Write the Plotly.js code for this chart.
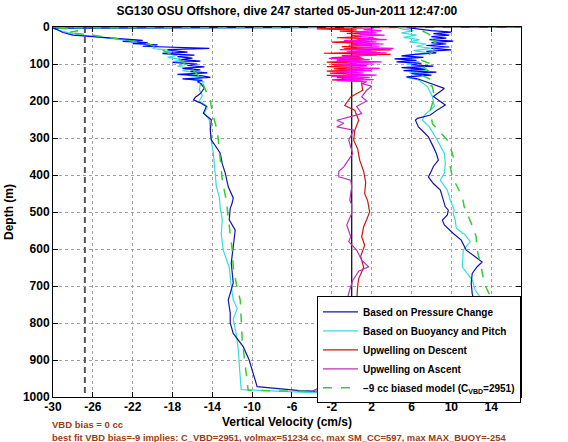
<!DOCTYPE html>
<html>
<head>
<meta charset="utf-8">
<script src="https://cdn.plot.ly/plotly-3.0.1.min.js"></script>
<style>html,body{margin:0;padding:0;background:#fff}#chart{width:568px;height:442px}</style>
</head>
<body>
<div id="chart"></div>
<script>
// ---------------- DATA ----------------
// Based on Pressure Change (blue)
const blueDescNoisyDepth = [0, 3, 8, 15, 22, 28, 33, 36, 39, 42, 45, 48, 52, 55, 58, 61, 64, 68, 72, 76, 80, 84, 88, 92, 96, 100, 104, 108, 112, 116, 120, 124, 128, 132, 136, 140, 144, 148, 152];
const blueDescNoisyW = [18, -30, -29.5, -29, -28, -25, -22.5, -21, -23, -20.5, -22, -19.5, -21, -17.5, -14.3, -18.5, -18, -16.5, -19, -15.8, -17.5, -16, -17.2, -15.2, -18, -15.5, -16.5, -14.8, -17, -15.2, -16.2, -14.5, -17.5, -15, -14.2, -17, -15, -15.5, -15.2];
const blueDescDepth = [152, 165, 180, 190, 197, 205, 215, 233, 251, 280, 305, 341, 370, 395, 432, 462, 475, 490, 521, 549, 594, 638, 692, 738, 773, 800, 828, 864, 900, 936, 968, 972, 983, 988, 990];
const blueDescW = [-15.2, -14.8, -15.2, -15.7, -15.9, -15.2, -14.6, -14.9, -14.1, -14.2, -14.1, -13.2, -13.0, -12.7, -12.4, -11.9, -12.0, -12.2, -12.3, -11.7, -11.9, -12.1, -11.9, -12.4, -12.2, -12.2, -11.9, -10.9, -10.3, -9.9, -9.5, -9.5, -5.2, 0, 8];
const blueAscDepth = [992, 988, 975, 950, 920, 880, 840, 800, 769, 747, 720, 693, 666, 648, 635, 621, 603, 576, 558, 535, 522, 508, 495, 486, 468, 441, 423, 405, 395, 377, 360, 342, 324, 297, 283, 270, 252, 247, 238, 224, 211, 188, 166, 152, 140];
const blueAscW = [14, 15, 14.8, 14.2, 13.6, 12.9, 13.2, 12.6, 12.1, 12.3, 12.1, 12.0, 12.1, 12.6, 13.1, 12.4, 11.5, 11.0, 10.2, 9.3, 9.1, 9.6, 9.7, 9.4, 9.2, 8.9, 8.2, 7.7, 7.9, 8.2, 8.7, 8.5, 8.2, 7.7, 7.2, 6.7, 6.4, 6.6, 7.9, 8.6, 9.4, 8.2, 9.3, 7.9, 6.6];
const blueAscNoisyDepth = [140, 135, 130, 126, 122, 118, 114, 110, 106, 102, 98, 94, 90, 86, 82, 78, 74, 70, 66, 62, 58, 54, 50, 46, 42, 38, 34, 30, 26, 22, 18, 14, 10, 6, 3, 0];
const blueAscNoisyW = [6.6, 5.5, 8, 6, 8.5, 5.2, 7.5, 5, 8.2, 6, 7, 4.5, 6.5, 4.3, 7.2, 5, 6.3, 8.5, 7.5, 10, 8, 9.8, 7.5, 9.5, 8, 10.2, 7.8, 9.5, 8, 9.8, 8.2, 10, 8, 7, 6, 5];

// Based on Buoyancy and Pitch (cyan)
const cyanDepth = [0, 3, 8, 15, 22, 30, 38, 45, 52, 58, 64, 70, 76, 82, 88, 94, 100, 106, 112, 118, 124, 130, 136, 142, 148, 155, 170, 185, 200, 215, 233, 251, 280, 310, 340, 370, 400, 430, 460, 490, 520, 560, 603, 650, 700, 738, 760, 790, 830, 870, 910, 950, 980, 988, 992,
  988, 975, 950, 920, 880, 840, 800, 769, 756, 738, 711, 684, 666, 648, 603, 580, 562, 544, 522, 504, 495, 468, 441, 414, 395, 369, 342, 306, 270, 252, 238, 215, 188, 161, 143,
  136, 130, 124, 118, 112, 106, 100, 94, 88, 82, 76, 70, 64, 58, 52, 46, 40, 34, 28, 22, 16, 10, 5, 0];
const cyanW = [16, -30, -29.5, -28.5, -27, -24.5, -22, -20.5, -19.5, -20, -18, -19, -17.5, -18.5, -17, -18, -16.5, -17.5, -16, -17, -15.5, -16.5, -15, -16, -14.8, -15.2, -15.3, -15, -15.3, -14.5, -14.8, -14.3, -14.2, -14.1, -13.9, -13.8, -13.7, -13.6, -13.3, -13.2, -13.0, -13.1, -12.9, -12.3, -12.1, -11.9, -11.5, -11.9, -11.6, -11.4, -11.3, -11.2, -11.1, -4, 3,
  15.5, 15.3, 14.8, 14.2, 13.7, 13.9, 13.5, 12.8, 13.3, 13.1, 12.4, 12.1, 11.6, 11.1, 11.2, 11.9, 11.4, 10.5, 10.4, 10.2, 10.3, 9.9, 9.6, 8.9, 9.3, 9.4, 9.3, 8.6, 7.8, 7.1, 7.3, 8.3, 8.1, 7.6, 6.7,
  5.5, 7, 5.8, 7.5, 6, 7.2, 5.5, 6.8, 5.2, 6.5, 5.8, 7.8, 6.2, 8, 6.5, 7.5, 5.8, 6.8, 5.2, 6.5, 5, 6.2, 5, 4.5];

// Upwelling on Descent (red)
const redNoisyDepth = [0, 2, 5, 8, 11, 14, 17, 20, 23, 26, 29, 32, 35, 38, 41, 44, 47, 50, 53, 56, 59, 62, 65, 68, 71, 74, 77, 80, 83, 86, 89, 92, 95, 98, 101, 104, 107, 110, 113, 116, 119, 122, 125, 128, 131, 134, 137, 140, 143, 146, 150];
const redNoisyW = [17.5, 2, -3.5, 0.5, -1.2, 1.5, -0.5, 2, 0, 1, -1.5, 2.5, 0.5, 1.5, -2, 1, 0, 2, -1, 1.5, -0.8, 4, 0.5, 2.5, -2.8, 3.9, -1, 0.8, -2, 1.2, -1.5, 1, -2.5, 0.5, -2, 1.5, -2.5, 0.8, -1.8, 1.2, -2.5, 0.5, -2.2, 1, -2.5, 0.5, -1.5, 1.2, -2, 1, 1];
const redDepth = [150, 153, 171, 189, 212, 225, 252, 280, 306, 330, 360, 390, 420, 450, 470, 500, 521, 540, 567, 590, 620, 650, 680, 700, 740, 766, 800, 850, 900, 950, 985];
const redW = [1, 1.0, 1.1, -0.1, -0.7, 0.3, 0.7, 0.3, 0.2, 0.6, 0.8, 1.2, 1.4, 1.3, 1.6, 1.8, 1.5, 1.2, 1.0, 1.3, 0.9, 1.2, 0.7, 0.6, 0.5, 0.1, 0.2, -0.5, -0.3, -0.8, -1.0];

// Upwelling on Ascent (magenta)
const magDepth = [985, 978, 950, 900, 850, 800, 766, 740, 710, 685, 660, 648, 630, 603, 580, 567, 535, 503, 480, 468, 450, 432, 414, 405, 390, 378, 342, 306, 279, 270, 260, 252, 243, 234, 215, 200, 189, 171, 160, 153, 148];
const magW = [-4, -3.5, -1, -0.5, -1, -0.7, -1.2, -0.5, -0.2, 0.1, 0.7, 1.7, 1.0, 0.5, -0.3, -0.1, -0.5, 0.0, 0.0, -0.2, -0.1, 0.0, -0.1, -1.3, -1.3, -0.8, 0.1, -0.3, 0.2, -1.5, -0.8, -1.5, -0.2, 1.0, 0.5, 1.5, 1.0, 1.5, 2.0, 1.0, 1.5];
const magNoisyDepth = [148, 145, 142, 139, 136, 133, 130, 127, 124, 121, 118, 115, 112, 109, 106, 103, 100, 97, 94, 91, 88, 85, 82, 79, 76, 73, 70, 67, 64, 61, 58, 55, 52, 49, 46, 43, 40, 37, 34, 31, 28, 25, 22, 19, 16, 13, 10, 7, 4, 1];
const magNoisyW = [1.5, -1.5, 2.2, -1, 1.8, -2, 2.5, -0.5, 1.2, -2.2, 2, -1.2, 2.8, -0.8, 1.5, -1.8, 2.2, -0.3, 3, -1.5, 1.8, -2.3, 1, -1, 2.5, 0, 3.5, -0.5, 2, -1.2, 4.2, 0.5, 2.8, -0.3, 3.2, 0.2, 2.5, -0.8, 3.5, 0.8, 2.2, 0.5, 3.3, 0.8, 2.5, 0.3, 3, 1.2, 2.2, 0.5];

// -9 cc biased model (green dashed)
const greenDepth = [0, 2, 5, 10, 15, 22, 30, 38, 45, 52, 60, 68, 76, 84, 92, 100, 110, 120, 130, 140, 150, 170, 197, 215, 251, 280, 305, 360, 414, 468, 522, 560, 603, 648, 693, 738, 790, 846, 891, 930, 963, 982, 986, 990,
  988, 975, 950, 920, 880, 840, 800, 774, 756, 738, 693, 648, 603, 567, 549, 495, 486, 459, 432, 405, 377, 351, 324, 306, 261, 225, 188, 161,
  150, 140, 130, 120, 110, 100, 90, 80, 70, 60, 50, 40, 30, 20, 10, 3];
const greenW = [20, -30, -28.5, -27.5, -28.5, -26, -24, -22, -20.5, -19.8, -19.2, -18.5, -18, -17.5, -17, -16.8, -16.2, -15.8, -15.4, -15.1, -15.0, -14.7, -14.2, -14.1, -13.8, -13.5, -13.4, -13.2, -13.0, -12.6, -12.4, -12.2, -12.0, -11.9, -11.6, -11.2, -11.1, -11.0, -10.8, -10.6, -10.5, -10.4, -2, 10,
  17.5, 17.2, 16.2, 15.3, 14.6, 14.8, 14.2, 13.8, 14.3, 14.1, 13.3, 13.0, 12.6, 12.5, 12.3, 11.5, 11.3, 11.1, 10.6, 10.1, 9.9, 10.2, 9.9, 9.6, 8.1, 7.9, 8.3, 8.1,
  7.5, 7.8, 7, 7.8, 7.2, 8, 7, 7.5, 8, 8.3, 7.8, 8.5, 7.5, 7.8, 7, 6.5];

// reference lines
const zeroLineDepth = [0, 1000];
const zeroLineW = [0, 0];
const vbdLineDepth = [0, 1000];
const vbdLineW = [-26.8, -26.8];

// axis ticks
const xTicks = [-30, -26, -22, -18, -14, -10, -6, -2, 2, 6, 10, 14];
const yTicks = [0, 100, 200, 300, 400, 500, 600, 700, 800, 900, 1000];

// ---------------- CHART ----------------
const FONT = 'Liberation Sans, Arial, Helvetica, sans-serif';
const C_BLUE = '#1414a8', C_BLUE_N = '#0000ff';
const C_CYAN = '#38dcdc';
const C_RED = '#cc1414', C_RED_N = '#ff0000';
const C_MAG = '#bb33bb', C_MAG_N = '#ff00ff';
const C_GREEN = '#33cc33';

const traces = [
  {x: vbdLineW, y: vbdLineDepth, mode: 'lines', line: {color: '#555555', width: 2, dash: '6px,4px'}, showlegend: false, hoverinfo: 'skip'},
  {x: zeroLineW, y: zeroLineDepth, mode: 'lines', line: {color: '#000000', width: 1.2}, showlegend: false, hoverinfo: 'skip'},
  {x: cyanW, y: cyanDepth, mode: 'lines', name: 'Based on Buoyancy and Pitch', line: {color: C_CYAN, width: 1.2}, legendrank: 2},
  {x: blueDescNoisyW, y: blueDescNoisyDepth, mode: 'lines', line: {color: C_BLUE_N, width: 1.2}, showlegend: false},
  {x: blueAscNoisyW, y: blueAscNoisyDepth, mode: 'lines', line: {color: C_BLUE_N, width: 1.2}, showlegend: false},
  {x: blueDescW.concat(blueAscW), y: blueDescDepth.concat(blueAscDepth), mode: 'lines', name: 'Based on Pressure Change', line: {color: C_BLUE, width: 1.2}, legendrank: 1},
  {x: redNoisyW, y: redNoisyDepth, mode: 'lines', line: {color: C_RED_N, width: 1.2}, showlegend: false},
  {x: redW, y: redDepth, mode: 'lines', name: 'Upwelling on Descent', line: {color: C_RED, width: 1.2}, legendrank: 3},
  {x: magNoisyW, y: magNoisyDepth, mode: 'lines', line: {color: C_MAG_N, width: 1.2}, showlegend: false},
  {x: magW, y: magDepth, mode: 'lines', name: 'Upwelling on Ascent', line: {color: C_MAG, width: 1.2}, legendrank: 4},
  {x: greenW, y: greenDepth, mode: 'lines', name: '\u22129 cc biased model (C<sub>VBD</sub>=2951)', line: {color: C_GREEN, width: 1.5, dash: 'dash'}, legendrank: 5}
];

const axisCommon = {
  showline: true, linecolor: '#000', linewidth: 1, mirror: 'allticks',
  ticks: 'inside', ticklen: 5, tickcolor: '#000', tickwidth: 1,
  showgrid: true, gridcolor: '#a0a0a0', griddash: 'dot', gridwidth: 1,
  zeroline: false,
  tickfont: {family: FONT, size: 12, color: '#000', weight: 'bold'}
};

const layout = {
  width: 568, height: 442,
  margin: {l: 53, r: 47, t: 27, b: 45},
  paper_bgcolor: '#fff', plot_bgcolor: '#fff',
  font: {family: FONT, color: '#000'},
  title: {text: 'SG130 OSU Offshore, dive 247 started 05-Jun-2011 12:47:00', x: 0.505, xanchor: 'center', y: 0.975, yanchor: 'middle', font: {family: FONT, size: 12, color: '#000', weight: 'bold'}},
  xaxis: Object.assign({}, axisCommon, {
    range: [-30, 17], tickvals: xTicks, ticktext: xTicks.map(String),
    ticklabelstandoff: -1,
    title: {text: 'Vertical Velocity (cm/s)', font: {family: FONT, size: 12, color: '#000', weight: 'bold'}, standoff: 4}
  }),
  yaxis: Object.assign({}, axisCommon, {
    range: [1000, 0], tickvals: yTicks, ticktext: yTicks.map(String),
    title: {text: 'Depth (m)', font: {family: FONT, size: 12, color: '#000', weight: 'bold'}, standoff: 6}
  }),
  showlegend: true,
  legend: {
    x: 0.564, y: 0.272, xanchor: 'left', yanchor: 'top',
    bgcolor: '#fff', bordercolor: '#000', borderwidth: 1,
    font: {family: FONT, size: 10, color: '#000', weight: 'bold'},
    itemwidth: 35, tracegroupgap: 0
  },
  annotations: [
    {xref: 'paper', yref: 'paper', x: -0.006, y: -0.055, xanchor: 'left', yanchor: 'top', showarrow: false,
     text: 'VBD bias = 0 cc', font: {family: FONT, size: 9.5, color: '#9c3c10', weight: 'bold'}},
    {xref: 'paper', yref: 'paper', x: -0.006, y: -0.088, xanchor: 'left', yanchor: 'top', showarrow: false,
     text: 'best fit VBD bias=-9 implies: C_VBD=2951, volmax=51234 cc, max SM_CC=597, max MAX_BUOY=-254', font: {family: FONT, size: 9.4, color: '#9c3c10', weight: 'bold'}}
  ]
};

Plotly.newPlot('chart', traces, layout, {displayModeBar: false, staticPlot: true});
</script>
</body>
</html>
